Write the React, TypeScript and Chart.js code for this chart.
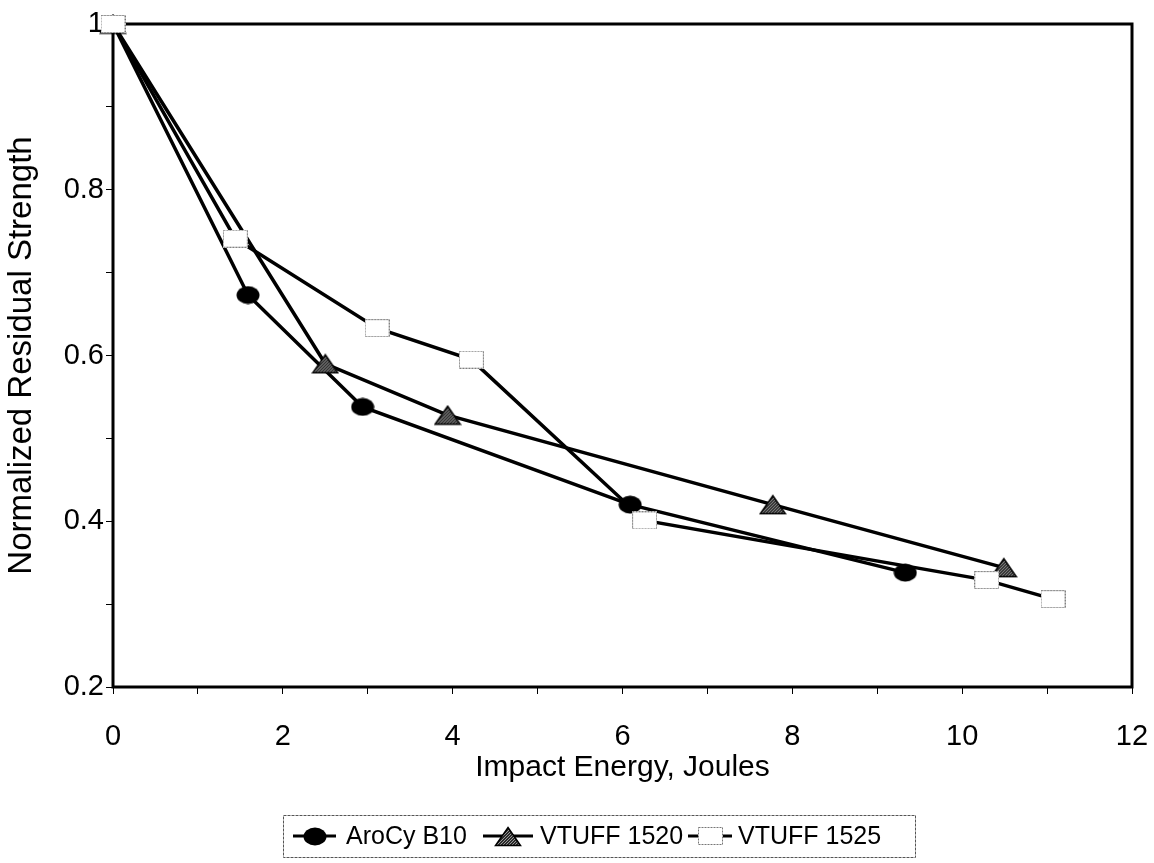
import React, { useEffect, useRef } from "react";
import { Chart, registerables } from "chart.js";

Chart.register(...registerables);

// Impact energy (J) and normalized residual strength for each laminate
const arocyEnergy = [0, 1.59, 2.94, 6.09, 9.33];
const arocyStrength = [1.0, 0.673, 0.538, 0.42, 0.338];

const vt1520Energy = [0, 2.5, 3.94, 7.77, 10.49];
const vt1520Strength = [1.0, 0.59, 0.528, 0.42, 0.344];

const vt1525Energy = [0, 1.44, 3.11, 4.22, 6.26, 10.29, 11.07];
const vt1525Strength = [1.0, 0.741, 0.633, 0.595, 0.401, 0.329, 0.306];

const seriesNames = ["AroCy B10", "VTUFF 1520", "VTUFF 1525"];

const xAxisTitle = "Impact Energy, Joules";
const yAxisTitle = "Normalized Residual Strength";

const FONT = "'Liberation Sans', Arial, sans-serif";

function makeCanvas(w: number, h: number) {
  const c = document.createElement("canvas");
  c.width = w;
  c.height = h;
  return c;
}

// Filled black ellipse marker
function circleMarker() {
  const c = makeCanvas(24, 19);
  const g = c.getContext("2d")!;
  g.fillStyle = "#000";
  g.beginPath();
  g.ellipse(12, 9.5, 11.5, 9, 0, 0, Math.PI * 2);
  g.fill();
  return c;
}

// Stippled grey triangle marker
function triangleMarker() {
  const c = makeCanvas(28, 21);
  const g = c.getContext("2d")!;
  const path = () => {
    g.beginPath();
    g.moveTo(14, 1.5);
    g.lineTo(26.5, 19.5);
    g.lineTo(1.5, 19.5);
    g.closePath();
  };
  const pat = makeCanvas(3, 3);
  const pg = pat.getContext("2d")!;
  pg.fillStyle = "#2a2a2a";
  pg.fillRect(0, 0, 3, 3);
  pg.fillStyle = "#9a9a9a";
  pg.fillRect(0, 0, 1, 1);
  pg.fillRect(2, 1, 1, 1);
  pg.fillRect(1, 2, 1, 1);
  path();
  g.fillStyle = g.createPattern(pat, "repeat")!;
  g.fill();
  g.lineWidth = 1.5;
  g.strokeStyle = "#000";
  path();
  g.stroke();
  return c;
}

// Open white rectangle marker with a faint dotted outline
function squareMarker() {
  const c = makeCanvas(25, 18);
  const g = c.getContext("2d")!;
  g.fillStyle = "#fff";
  g.fillRect(0, 0, 25, 18);
  g.strokeStyle = "#777";
  g.lineWidth = 1;
  g.setLineDash([2, 1]);
  g.strokeRect(0.5, 0.5, 24, 17);
  return c;
}

const toPoints = (xs: number[], ys: number[]) => xs.map((x, i) => ({ x, y: ys[i] }));

export default function App() {
  const ref = useRef<HTMLCanvasElement>(null);

  useEffect(() => {
    const markers = [circleMarker(), triangleMarker(), squareMarker()];

    // Heavy frame around the plotting area
    const frame = {
      id: "frame",
      beforeDatasetsDraw(chart: any) {
        const { ctx, chartArea: a } = chart;
        ctx.save();
        ctx.strokeStyle = "#000";
        ctx.lineWidth = 3;
        ctx.strokeRect(a.left, a.top, a.right - a.left, a.bottom - a.top);
        ctx.restore();
      },
    };

    // Boxed legend under the x axis title
    const legendBox = {
      id: "legendBox",
      afterDraw(chart: any) {
        const { ctx } = chart;
        const boxL = 283, boxT = 815, boxR = 915, boxB = 857;
        const cy = (boxT + boxB) / 2;
        ctx.save();
        ctx.strokeStyle = "#555";
        ctx.lineWidth = 1;
        ctx.setLineDash([3, 1]);
        ctx.strokeRect(boxL + 0.5, boxT + 0.5, boxR - boxL, boxB - boxT);
        ctx.setLineDash([]);
        const items = [
          { x0: 293, x1: 336, tx: 346 },
          { x0: 483, x1: 533, tx: 540 },
          { x0: 688, x1: 732, tx: 738 },
        ];
        items.forEach((it, i) => {
          ctx.strokeStyle = "#000";
          ctx.lineWidth = 3;
          ctx.beginPath();
          ctx.moveTo(it.x0, cy);
          ctx.lineTo(it.x1, cy);
          ctx.stroke();
          const m = markers[i];
          const mx = (it.x0 + it.x1) / 2;
          ctx.drawImage(m, Math.round(mx - m.width / 2), Math.round(cy - m.height / 2));
          ctx.fillStyle = "#000";
          ctx.font = `25px ${FONT}`;
          ctx.textBaseline = "middle";
          ctx.textAlign = "left";
          ctx.fillText(seriesNames[i], it.tx, cy + 1);
        });
        ctx.restore();
      },
    };

    const series = [
      toPoints(arocyEnergy, arocyStrength),
      toPoints(vt1520Energy, vt1520Strength),
      toPoints(vt1525Energy, vt1525Strength),
    ];

    // Open squares sit on top, then triangles, then circles
    const drawOrder = [2, 1, 0];

    const chart = new Chart(ref.current!, {
      type: "line",
      data: {
        datasets: series.map((data, i) => ({
          label: seriesNames[i],
          data,
          borderColor: "#000",
          borderWidth: 3.5,
          pointStyle: markers[i] as any,
          pointRadius: 10,
          tension: 0,
          clip: false as any,
          order: drawOrder[i],
        })),
      },
      options: {
        animation: false,
        responsive: false,
        events: [],
        layout: { padding: { left: 0, top: 24, right: 22, bottom: 66 } },
        plugins: { legend: { display: false }, tooltip: { enabled: false } },
        scales: {
          x: {
            type: "linear",
            min: 0,
            max: 12,
            border: { display: false },
            grid: { drawOnChartArea: false, color: "#000", tickLength: 7, lineWidth: 1 },
            ticks: {
              stepSize: 1,
              color: "#000",
              padding: 26,
              maxRotation: 0,
              autoSkip: false,
              font: { family: FONT, size: 29 },
              callback: (v: any) => (Math.round(v) % 2 === 0 ? String(Math.round(v)) : ""),
            },
            title: {
              display: true,
              text: xAxisTitle,
              color: "#000",
              font: { family: FONT, size: 30 },
              padding: { top: 0, bottom: 11 },
            },
            afterFit: (s: any) => {
              s.height = 110;
              s.paddingLeft = 0;
              s.paddingRight = 0;
            },
          },
          y: {
            type: "linear",
            min: 0.2,
            max: 1,
            border: { display: false },
            grid: { drawOnChartArea: false, color: "#000", tickLength: 7, lineWidth: 1 },
            ticks: {
              stepSize: 0.1,
              color: "#000",
              padding: 2,
              autoSkip: false,
              font: { family: FONT, size: 29 },
              callback: (v: any) => {
                const t = Math.round(v * 10);
                if (t % 2 !== 0) return "";
                return t === 10 ? "1" : (t / 10).toFixed(1);
              },
            },
            title: {
              display: true,
              text: yAxisTitle,
              color: "#000",
              font: { family: FONT, size: 33 },
              padding: { top: 2, bottom: 0 },
            },
            afterFit: (s: any) => {
              s.width = 113;
              s.paddingTop = 0;
              s.paddingBottom = 0;
            },
          },
        },
      },
      plugins: [frame, legendBox],
    });

    return () => chart.destroy();
  }, []);

  return (
    <div style={{ position: "fixed", left: 0, top: 0, width: 1154, height: 863, background: "#fff" }}>
      <canvas ref={ref} width={1154} height={863} style={{ display: "block" }} />
    </div>
  );
}
